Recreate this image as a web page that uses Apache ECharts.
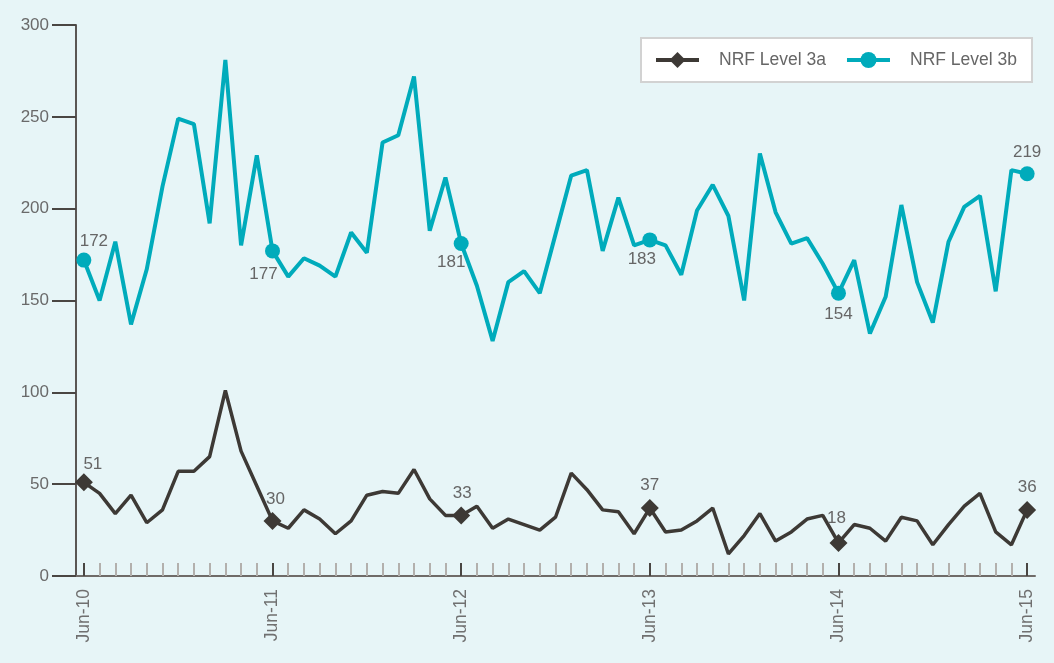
<!DOCTYPE html>
<html>
<head>
<meta charset="utf-8">
<script src="https://cdn.jsdelivr.net/npm/echarts@6/dist/echarts.min.js"></script>
<style>
html,body{margin:0;padding:0;background:#e7f5f7;}
#chart{width:1054px;height:663px;}
</style>
</head>
<body>
<div id="chart"></div>
<script>
const months = ['Jun','Jul','Aug','Sep','Oct','Nov','Dec','Jan','Feb','Mar','Apr','May'];
const categories = [];
for (let y = 10; y <= 15; y++) {
  for (let m = 0; m < 12; m++) {
    const yr = m >= 7 ? y + 1 : y;
    if (y === 15 && m > 0) break;
    categories.push(months[m] + '-' + yr);
  }
}
const level3a = [51,45,34,44,29,36,57,57,65,101,68,49,30,26,36,31,23,30,44,46,45,58,42,33,33,38,26,31,28,25,32,56,47,36,35,23,37,24,25,30,37,12,22,34,19,24,31,33,18,28,26,19,32,30,17,28,38,45,24,17,36];
const level3b = [172,150,182,137,167,212,249,246,192,281,180,229,177,163,173,169,163,187,176,236,240,272,188,217,181,158,128,160,166,154,186,218,221,177,206,180,183,180,164,199,213,196,150,230,198,181,184,170,154,172,132,152,202,160,138,182,201,207,155,221,219];
const seriesNames = ['NRF Level 3a','NRF Level 3b'];
const yTicks = [0,50,100,150,200,250,300];

// label placement for highlighted points (every 12 months)
const labelCfg3a = {0:['top',[9,4]],12:['top',[3,1]],24:['top',[1,0]],36:['top',[0,0]],48:['top',[-2,-2]],60:['top',[0,0]]};
const labelCfg3b = {0:['top',[10,2]],12:['bottom',[-9,2]],24:['bottom',[-10,-2]],36:['bottom',[-8,-2]],48:['bottom',[0,0]],60:['top',[0,0]]};

function buildData(vals, cfg) {
  return vals.map((v, i) => {
    if (cfg[i]) {
      return {value: v, label: {show: true, position: cfg[i][0], offset: cfg[i][1]}};
    }
    return v;
  });
}

const FONT = 'Liberation Sans, Arial, sans-serif';
const chart = echarts.init(document.getElementById('chart'));
chart.setOption({
  backgroundColor: '#e7f5f7',
  animation: false,
  grid: {left: 76, right: 19, top: 25, bottom: 87},
  legend: {
    left: 641, top: 38, width: 391,
    backgroundColor: '#ffffff',
    borderColor: '#d2d2d2',
    borderWidth: 2,
    padding: [13, 15, 13, 13],
    itemWidth: 43, itemHeight: 20, itemGap: 19,
    lineStyle: {width: 4},
    textStyle: {color: '#666', fontSize: 17.5, fontFamily: FONT, padding: [0, 0, 0, 15]},
    data: seriesNames
  },
  xAxis: [{
    type: 'category', data: categories, boundaryGap: true,
    axisLine: {lineStyle: {color: '#6f6b68', width: 2}},
    axisTick: {show: true, interval: 0, alignWithLabel: true, inside: true, length: 13, lineStyle: {color: '#b3b0ad', width: 2}},
    axisLabel: {show: false},
    splitLine: {show: false}
  }, {
    type: 'category', data: categories, boundaryGap: true, position: 'bottom',
    axisLine: {show: false},
    axisTick: {show: true, interval: 11, alignWithLabel: true, inside: true, length: 13, lineStyle: {color: '#4a4643', width: 2}},
    axisLabel: {show: true, interval: 11, rotate: 90, color: '#707070', fontSize: 17.5, margin: 13, fontFamily: FONT},
    splitLine: {show: false}
  }],
  yAxis: {
    type: 'value', min: yTicks[0], max: yTicks[yTicks.length-1], interval: 50,
    axisLine: {show: true, lineStyle: {color: '#5a5654', width: 2}},
    axisTick: {show: true, length: 24, lineStyle: {color: '#4a4643', width: 2}},
    axisLabel: {color: '#6a6a6a', fontSize: 17, margin: 27, fontFamily: FONT},
    splitLine: {show: false}
  },
  series: [{
    name: seriesNames[0], type: 'line', xAxisIndex: 0,
    data: buildData(level3a, labelCfg3a),
    color: '#3d3935',
    lineStyle: {width: 3.5, color: '#3d3935'},
    symbol: 'diamond',
    symbolSize: (v, p) => (p && p.dataIndex % 12 === 0 ? 18 : 0),
    showAllSymbol: true,
    itemStyle: {color: '#3d3935'},
    label: {show: false, color: '#666', fontSize: 17, fontFamily: FONT},
    z: 3
  }, {
    name: seriesNames[1], type: 'line', xAxisIndex: 0,
    data: buildData(level3b, labelCfg3b),
    color: '#00abbb',
    lineStyle: {width: 4, color: '#00abbb'},
    symbol: 'circle',
    symbolSize: (v, p) => (p && p.dataIndex % 12 === 0 ? 15 : 0),
    showAllSymbol: true,
    itemStyle: {color: '#00abbb'},
    label: {show: false, color: '#666', fontSize: 17, fontFamily: FONT},
    z: 4
  }]
});
</script>
</body>
</html>
